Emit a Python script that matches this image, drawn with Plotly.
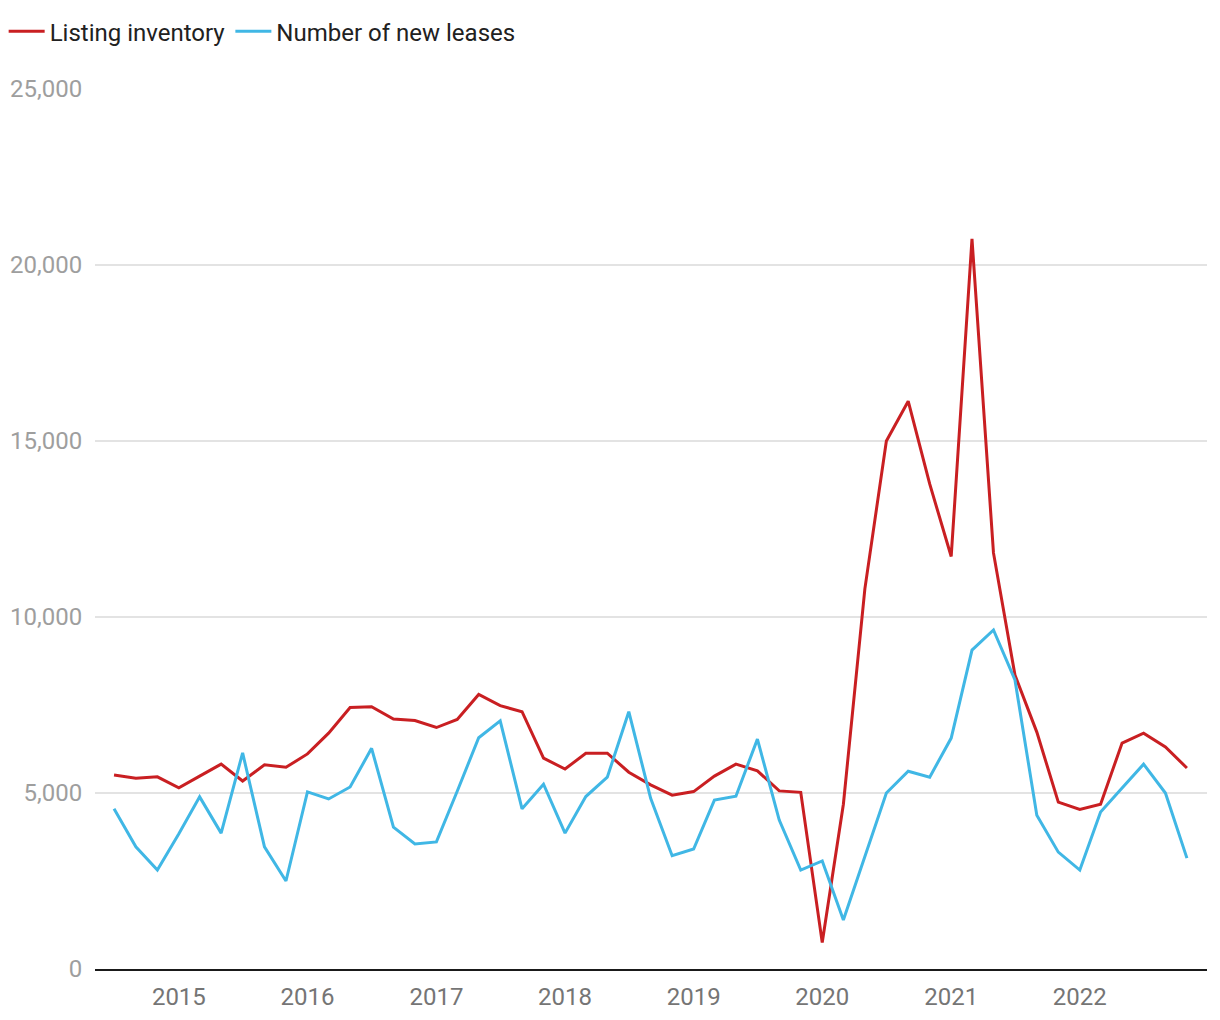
import plotly.graph_objects as go
import pandas as pd

dates = pd.date_range("2014-07-01", periods=51, freq="2MS")

listing_inventory = [
    5510, 5420, 5460, 5150, 5480, 5820, 5340, 5800, 5730, 6110,
    6700, 7430, 7450, 7100, 7060, 6860, 7090, 7800, 7480, 7310,
    5990, 5680, 6130, 6130, 5590, 5230, 4940, 5040, 5480, 5820,
    5630, 5060, 5020, 750, 4680, 10800, 15000, 16130, 13780, 11720,
    20740, 11820, 8350, 6730, 4740, 4530, 4680, 6420, 6700, 6310,
    5710,
]

new_leases = [
    4550, 3470, 2810, 3840, 4890, 3860, 6140, 3470, 2500, 5030,
    4830, 5170, 6270, 4030, 3550, 3610, 5050, 6570, 7050, 4550,
    5250, 3860, 4900, 5450, 7310, 4850, 3220, 3410, 4800, 4910,
    6530, 4230, 2810, 3070, 1390, 3200, 5000, 5620, 5450, 6560,
    9060, 9630, 8210, 4370, 3320, 2810, 4460, 5140, 5820, 5000,
    3150,
]

tick_years = ["2015", "2016", "2017", "2018", "2019", "2020", "2021", "2022"]
tick_vals = [f"{y}-01-01" for y in tick_years]

fig = go.Figure()
fig.add_trace(go.Scatter(x=dates, y=listing_inventory, mode="lines",
                         name="Listing inventory",
                         line=dict(color="#c91f22", width=3)))
fig.add_trace(go.Scatter(x=dates, y=new_leases, mode="lines",
                         name="Number of new leases",
                         line=dict(color="#40b7e5", width=3)))

fig.update_layout(
    width=1220, height=1020,
    margin=dict(l=95, r=13, t=89, b=51),
    plot_bgcolor="white", paper_bgcolor="white",
    font=dict(family="Roboto", size=24, color="#222"),
    showlegend=True,
    legend=dict(orientation="h", xref="container", yref="container",
                x=0.003, y=0.969, xanchor="left", yanchor="middle",
                font=dict(size=24, color="#212121"),
                itemwidth=36, tracegroupgap=0),
    xaxis=dict(
        range=["2014-05-08", "2022-12-28"],
        tickvals=tick_vals, ticktext=tick_years,
        showgrid=False, zeroline=False, automargin=False,
        showline=True, linecolor="#1a1a1a", linewidth=2,
        ticks="outside", ticklen=5, tickcolor="rgba(0,0,0,0)",
        tickfont=dict(size=24, color="#757575"),
    ),
    yaxis=dict(
        range=[0, 25000],
        tickvals=[0, 5000, 10000, 15000, 20000, 25000],
        tickformat=",", automargin=False,
        showgrid=True, gridcolor="#e3e3e3", gridwidth=1.5,
        zeroline=False, showline=False,
        ticks="outside", ticklen=7, tickcolor="rgba(0,0,0,0)",
        tickfont=dict(size=24, color="#9e9e9e"),
    ),
)

fig.write_html("out.html")
